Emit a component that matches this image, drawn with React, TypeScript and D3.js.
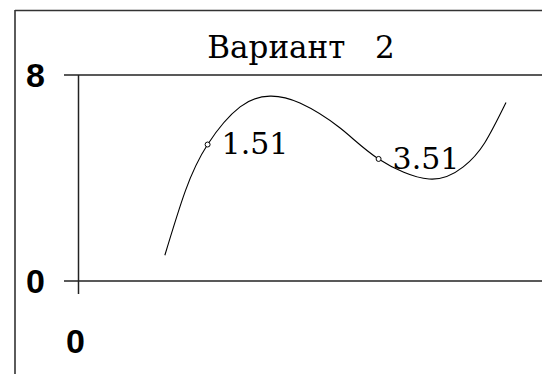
import React from "react";
import * as d3 from "d3";

const title = "Вариант   2";
const yTicks = [0, 8];
const xTicks = [0];
const curveX = [1.01, 1.25, 1.51, 1.89, 2.24, 2.59, 3.06, 3.51, 4.1, 4.5, 4.75, 5.0];
const curveY = [1.0, 3.5, 5.3, 6.76, 7.18, 6.91, 5.94, 4.74, 3.96, 4.43, 5.36, 6.93];
const markedX = [1.51, 3.51];
const markedY = [5.3, 4.74];
const markedLabels = ["1.51", "3.51"];

const SERIF = '"DejaVu Serif", serif';
const SANS = '"Liberation Sans", Arial, sans-serif';

export default function App() {
  const W = 542, H = 374;
  const x = d3.scaleLinear().domain([0, 5]).range([78.5, 506]);
  const y = d3.scaleLinear().domain([0, 8]).range([281, 75]);
  const pts: [number, number][] = curveX.map((v, i) => [v, curveY[i]]);
  const line = d3.line<[number, number]>().x(d => x(d[0])).y(d => y(d[1])).curve(d3.curveNatural);
  const axisX = x(0);
  return (
    <svg width={W} height={H} style={{ position: "fixed", left: 0, top: 0, background: "#fff" }}>
      <rect x={0} y={0} width={W} height={H} fill="#fff" />
      <line x1={15} y1={10.5} x2={W} y2={10.5} stroke="#333" strokeWidth={1.6} />
      <line x1={15} y1={10} x2={15} y2={H} stroke="#333" strokeWidth={1.6} />
      <text x={301} y={58} textAnchor="middle" style={{ fontFamily: SERIF, whiteSpace: "pre" }} fontSize={31} fill="#000">{title}</text>
      {yTicks.map(t => (
        <g key={t}>
          <line x1={64} x2={W} y1={y(t)} y2={y(t)} stroke="#222" strokeWidth={1.5} />
          <text x={35.5} y={y(t)} dy="0.36em" textAnchor="middle" style={{ fontFamily: SANS }} fontWeight="bold" fontSize={34} fill="#000">{t}</text>
        </g>
      ))}
      <line x1={axisX} x2={axisX} y1={y(8)} y2={294} stroke="#222" strokeWidth={1.5} />
      {xTicks.map(t => (
        <text key={t} x={x(t) - 3} y={341} dy="0.36em" textAnchor="middle" style={{ fontFamily: SANS }} fontWeight="bold" fontSize={34} fill="#000">{t}</text>
      ))}
      <path d={line(pts) || ""} fill="none" stroke="#000" strokeWidth={1.1} />
      {markedX.map((v, i) => (
        <g key={i}>
          <circle cx={x(v)} cy={y(markedY[i])} r={2.5} fill="#fff" stroke="#000" strokeWidth={1} />
          <text x={x(v) + 14} y={y(markedY[i]) - 1} dy="0.36em" style={{ fontFamily: SERIF }} fontSize={30} fill="#000">{markedLabels[i]}</text>
        </g>
      ))}
    </svg>
  );
}
